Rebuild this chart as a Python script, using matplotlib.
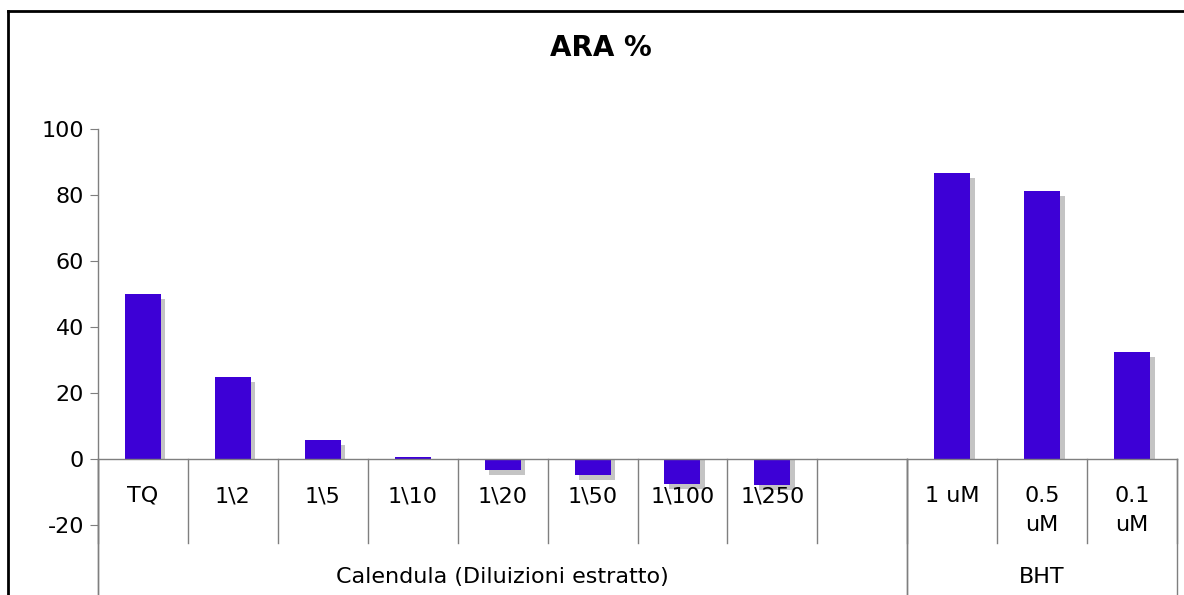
import numpy as np
import matplotlib.pyplot as plt
from matplotlib.lines import Line2D

plt.rcParams['axes.unicode_minus'] = False

categories = ['TQ', '1\\2', '1\\5', '1\\10', '1\\20', '1\\50', '1\\100', '1\\250', '',
              '1 uM', '0.5\nuM', '0.1\nuM']
values = [49.9, 24.7, 5.8, 0.5, -3.3, -4.9, -7.6, -7.9, np.nan, 86.6, 81.3, 32.3]
groups = ['Calendula (Diluizioni estratto)', 'BHT']
group_bounds = [(-0.5, 8.5), (8.5, 11.5)]

bar_color = '#3d00d6'
shadow_color = '#c4c4c4'
axis_color = '#7f7f7f'

W, H = 1184, 595
fig = plt.figure(figsize=(W / 100, H / 100), dpi=100)

# axes: y=100 at px 129, y=0 at px 459
px_per_unit = (459 - 129) / 100
ybot = -(H - 459) / px_per_unit
ax = fig.add_axes([98 / W, 0, (1177 - 98) / W, (H - 129) / H])
ax.set_xlim(-0.5, 11.5)
ax.set_ylim(ybot, 100)

x = np.arange(len(categories))
vals = np.array(values)
shadow = np.where(vals < 0, vals - 1.5, np.maximum(vals - 1.5, 0))
ax.bar(x + 0.05, shadow, width=0.4, color=shadow_color, zorder=1)
ax.bar(x, vals, width=0.4, color=bar_color, zorder=2)

for s in ['top', 'right', 'bottom']:
    ax.spines[s].set_visible(False)
ax.spines['left'].set_color(axis_color)
ax.spines['left'].set_linewidth(1)
ax.set_yticks([-20, 0, 20, 40, 60, 80, 100])
ax.tick_params(axis='y', length=6, color=axis_color, labelsize=16, pad=4)
ax.set_xticks([])

# category axis
ax.plot([-0.5, 11.5], [0, 0], color=axis_color, lw=1, zorder=3, clip_on=False)
sep_low = -(543 - 459) / px_per_unit
for b in np.arange(-0.5, 12, 1):
    ax.plot([b, b], [0, sep_low], color=axis_color, lw=1, clip_on=False)
for lo, hi in group_bounds:
    for b in (lo, hi):
        ax.plot([b, b], [0, ybot], color=axis_color, lw=1, clip_on=False)

lab_y = -(486 - 459) / px_per_unit
for xi, lab in zip(x, categories):
    ax.text(xi, lab_y, lab, ha='center', va='top', fontsize=16, linespacing=1.55)

grp_y = -(577 - 459) / px_per_unit
for (lo, hi), g in zip(group_bounds, groups):
    ax.text((lo + hi) / 2, grp_y, g, ha='center', va='center', fontsize=16)

fig.text(601 / W, 1 - 48 / H, 'ARA %', ha='center', va='center',
         fontsize=20, fontweight='bold')

# chart border
fig.add_artist(Line2D([8 / W, 8 / W], [0, 1 - 11 / H], color='black', lw=2,
                      transform=fig.transFigure))
fig.add_artist(Line2D([8 / W, 1], [1 - 11 / H, 1 - 11 / H], color='black', lw=2,
                      transform=fig.transFigure))

fig.savefig('out.png', dpi=100)
